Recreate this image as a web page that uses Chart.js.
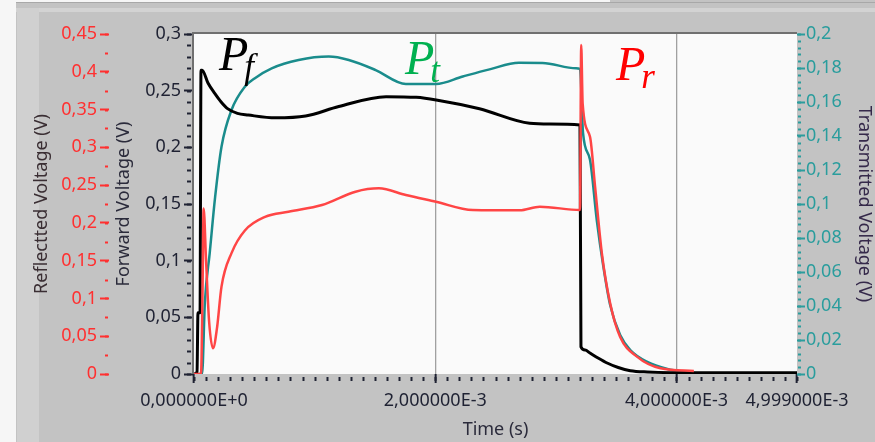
<!DOCTYPE html>
<html>
<head>
<meta charset="utf-8">
<script src="https://cdn.jsdelivr.net/npm/chart.js@4.4.0/dist/chart.umd.min.js"></script>
<style>
  html, body { margin: 0; padding: 0; background: #c3c3c3; }
  #wrap { width: 875px; height: 442px; }
</style>
</head>
<body>
<div id="wrap"><canvas id="canvas" width="875" height="442"></canvas></div>
<script>
// time values in ms, voltages in V
var fwdTime = [0, 0.025, 0.033, 0.05, 0.058, 0.067, 0.117, 0.172, 0.225, 0.275, 0.36, 0.45, 0.675, 0.925, 1.2, 1.592, 1.842, 2.008, 2.367, 2.783, 2.95, 3.2, 3.208, 3.242, 3.283, 3.35, 3.425, 3.517, 3.617, 3.758, 4.2, 4.999];
var fwdVolt = [0, 0.002, 0.054, 0.054, 0.268, 0.268, 0.2565, 0.2476, 0.24, 0.2344, 0.23, 0.2285, 0.226, 0.2276, 0.236, 0.2447, 0.2441, 0.2418, 0.234, 0.2212, 0.2205, 0.2197, 0.024, 0.0212, 0.0185, 0.0141, 0.0097, 0.0057, 0.0029, 0.0018, 0.001, 0.001];

var transTime = [0, 0.067, 0.09, 0.13, 0.175, 0.228, 0.311, 0.422, 0.505, 0.644, 0.867, 1.117, 1.283, 1.506, 1.756, 2.006, 2.228, 2.45, 2.694, 2.889, 3.167, 3.2, 3.225, 3.283, 3.339, 3.392, 3.45, 3.533, 3.617, 3.758, 3.925, 4.117];
var transVolt = [0, 0, 0.042, 0.071, 0.104, 0.1337, 0.1553, 0.169, 0.174, 0.1798, 0.1847, 0.1867, 0.1847, 0.1788, 0.1706, 0.1706, 0.175, 0.1792, 0.1831, 0.183, 0.1798, 0.1795, 0.1418, 0.126, 0.0906, 0.064, 0.0406, 0.0229, 0.0141, 0.0071, 0.0029, 0.0006];

var reflTime = [0, 0.058, 0.07, 0.08, 0.1, 0.125, 0.158, 0.19, 0.228, 0.311, 0.422, 0.589, 0.783, 1.061, 1.339, 1.533, 1.756, 2.006, 2.311, 2.7, 2.867, 3.2, 3.21, 3.222, 3.283, 3.325, 3.381, 3.45, 3.533, 3.672, 3.867, 4.144];
var reflVolt = [0, 0, 0.1, 0.219, 0.15, 0.07, 0.034, 0.06, 0.1156, 0.16, 0.19, 0.208, 0.2148, 0.2237, 0.2413, 0.2457, 0.2369, 0.228, 0.217, 0.2166, 0.2214, 0.217, 0.4354, 0.358, 0.314, 0.248, 0.16, 0.0936, 0.049, 0.023, 0.0075, 0.004];

var timeTicks = [0, 2, 4, 4.999];
var timeLabels = ["0,000000E+0", "2,000000E-3", "4,000000E-3", "4,999000E-3"];

var labelFont = { family: "'Noto Sans', sans-serif", size: 18 };

function pts(xs, ys) {
  return xs.map(function (x, i) { return { x: x, y: ys[i] }; });
}

function commaFmt(v) {
  var r = Math.round(v * 1000) / 1000;
  return String(r).replace(".", ",");
}

var frame = {
  id: "frame",
  beforeDraw: function (chart) {
    var ctx = chart.ctx, a = chart.chartArea;
    ctx.save();
    ctx.fillStyle = "#c3c3c3";
    ctx.fillRect(0, 0, 875, 442);
    ctx.fillStyle = "#f6f6f6";
    ctx.fillRect(0, 0, 16, 442);
    ctx.fillRect(0, 0, 610, 2);
    ctx.fillStyle = "#d3d3d3";
    ctx.fillRect(16, 8, 859, 4);
    ctx.fillStyle = "#d0d0d0";
    ctx.fillRect(17, 8, 22, 434);
    ctx.fillStyle = "#a8a8a8";
    ctx.fillRect(16, 2, 859, 1);
    ctx.fillStyle = "#fafafa";
    ctx.fillRect(a.left, a.top, a.right - a.left, a.bottom - a.top);
    ctx.restore();
  },
  afterDatasetsDraw: function (chart) {
    var ctx = chart.ctx, a = chart.chartArea;
    ctx.save();
    ctx.strokeStyle = "#707070";
    ctx.lineWidth = 2;
    ctx.beginPath();
    ctx.moveTo(a.left - 1, a.bottom);
    ctx.lineTo(a.left - 1, a.top - 1);
    ctx.lineTo(a.right, a.top - 1);
    ctx.stroke();
    ctx.restore();
  }
};

var minorTicks = {
  id: "minorTicks",
  afterDraw: function (chart) {
    var ctx = chart.ctx;
    ctx.save();
    ctx.lineWidth = 2;
    function yMinor(scale, step, n, x1, x2, color) {
      ctx.strokeStyle = color;
      for (var i = 0; i <= n; i++) {
        var v = i * step;
        var y = Math.round(scale.getPixelForValue(v)) + 0.5;
        ctx.beginPath();
        ctx.moveTo(x1, y);
        ctx.lineTo(x2, y);
        ctx.stroke();
      }
    }
    var r = chart.scales.yR, f = chart.scales.yF, t = chart.scales.yT, x = chart.scales.x;
    yMinor(r, 0.025, 18, r.right - 4, r.right - 1, "#ff3030");
    yMinor(f, 0.01, 30, f.right - 7, f.right - 3, "#1f2233");
    yMinor(t, 0.004, 50, t.left + 1, t.left + 4, "#2a9d9d");
    ctx.strokeStyle = "#1f2233";
    for (var i = 0; i <= 50; i++) {
      var v = Math.min(i * 0.1, 4.999);
      var px = Math.round(x.getPixelForValue(v)) + 0.5;
      ctx.beginPath();
      ctx.moveTo(px, x.top + 3);
      ctx.lineTo(px, x.top + 7);
      ctx.stroke();
    }
    ctx.restore();
  }
};

var marks = {
  id: "marks",
  afterDatasetsDraw: function (chart) {
    var ctx = chart.ctx;
    function sym(main, sub, x, y, color) {
      ctx.fillStyle = color;
      ctx.font = "italic 48px 'Liberation Serif', serif";
      ctx.textBaseline = "alphabetic";
      ctx.fillText(main, x, y);
      var w = ctx.measureText(main).width;
      ctx.font = "italic 35px 'Liberation Serif', serif";
      ctx.fillText(sub, x + w - 4, y + 8);
    }
    ctx.save();
    sym("P", "f", 219, 70, "#000000");
    sym("P", "t", 405, 74, "#00b050");
    sym("P", "r", 616, 80, "#ff0000");
    ctx.restore();
  }
};

var ctx = document.getElementById("canvas");

var chart = new Chart(ctx, {
  type: "line",
  data: {
    datasets: [
      {
        label: "Transmitted",
        data: pts(transTime, transVolt),
        yAxisID: "yT",
        borderColor: "#1a8c8c",
        borderWidth: 2.5,
        pointRadius: 0,
        cubicInterpolationMode: "monotone",
        fill: false,
        order: 3
      },
      {
        label: "Forward",
        data: pts(fwdTime, fwdVolt),
        yAxisID: "yF",
        borderColor: "#000000",
        borderWidth: 3,
        pointRadius: 0,
        cubicInterpolationMode: "monotone",
        fill: false,
        order: 2
      },
      {
        label: "Reflected",
        data: pts(reflTime, reflVolt),
        yAxisID: "yR",
        borderColor: "#ff4545",
        borderWidth: 2.5,
        pointRadius: 0,
        cubicInterpolationMode: "monotone",
        fill: false,
        order: 1
      }
    ]
  },
  options: {
    responsive: false,
    animation: false,
    devicePixelRatio: 1,
    layout: { padding: { top: 34, left: 0, right: 0, bottom: 0 } },
    plugins: { legend: { display: false }, tooltip: { enabled: false } },
    scales: {
      x: {
        type: "linear",
        min: 0,
        max: 4.999,
        afterBuildTicks: function (scale) {
          scale.ticks = timeTicks.map(function (v) { return { value: v }; });
        },
        afterFit: function (scale) { scale.height = 68; },
        ticks: {
          autoSkip: false,
          maxRotation: 0,
          padding: 7,
          color: "#1f2233",
          font: labelFont,
          callback: function (v) {
            var i = timeTicks.indexOf(v);
            return i >= 0 ? timeLabels[i] : "";
          }
        },
        grid: {
          drawOnChartArea: true,
          lineWidth: 1.3,
          tickWidth: 2,
          tickLength: 9,
          tickColor: "#1f2233",
          color: function (c) {
            var v = c.tick ? c.tick.value : null;
            return (v === 2 || v === 4) ? "#a0a0a0" : "rgba(0,0,0,0)";
          }
        },
        border: { display: false },
        title: {
          display: true,
          text: "Time (s)",
          color: "#2b2b3b",
          font: labelFont,
          padding: { top: 0, bottom: 1 }
        }
      },
      yR: {
        type: "linear",
        position: "left",
        weight: 2,
        min: 0,
        max: 0.45,
        afterFit: function (scale) { scale.width = 109; },
        ticks: { stepSize: 0.05, padding: 3, color: "#ff3030", font: labelFont, callback: commaFmt },
        grid: { drawOnChartArea: false, tickLength: 9, tickWidth: 2, tickColor: "#ff3030" },
        border: { display: false },
        title: {
          display: true,
          text: "Reflectted Voltage (V)",
          color: "#3a2e33",
          font: labelFont,
          padding: { top: 31, bottom: 0 }
        }
      },
      yF: {
        type: "linear",
        position: "left",
        weight: 1,
        min: 0,
        max: 0.3,
        afterFit: function (scale) { scale.width = 85; },
        ticks: { stepSize: 0.05, padding: 3, color: "#1f2233", font: labelFont, callback: commaFmt },
        grid: { drawOnChartArea: false, tickLength: 10, tickWidth: 2, tickColor: "#1f2233" },
        border: { display: false },
        title: {
          display: true,
          text: "Forward Voltage (V)",
          color: "#2b2b3b",
          font: labelFont,
          padding: { top: 4, bottom: 0 }
        }
      },
      yT: {
        type: "linear",
        position: "right",
        min: 0,
        max: 0.2,
        afterFit: function (scale) { scale.width = 78; },
        ticks: { stepSize: 0.02, padding: 1, color: "#2a9d9d", font: labelFont, callback: commaFmt },
        grid: { drawOnChartArea: false, tickLength: 8, tickWidth: 2, tickColor: "#2a9d9d" },
        border: { display: false },
        title: {
          display: true,
          text: "Transmitted Voltage (V)",
          color: "#35294a",
          font: labelFont,
          padding: { top: 0, bottom: 0 }
        }
      }
    }
  },
  plugins: [frame, minorTicks, marks]
});
</script>
</body>
</html>
